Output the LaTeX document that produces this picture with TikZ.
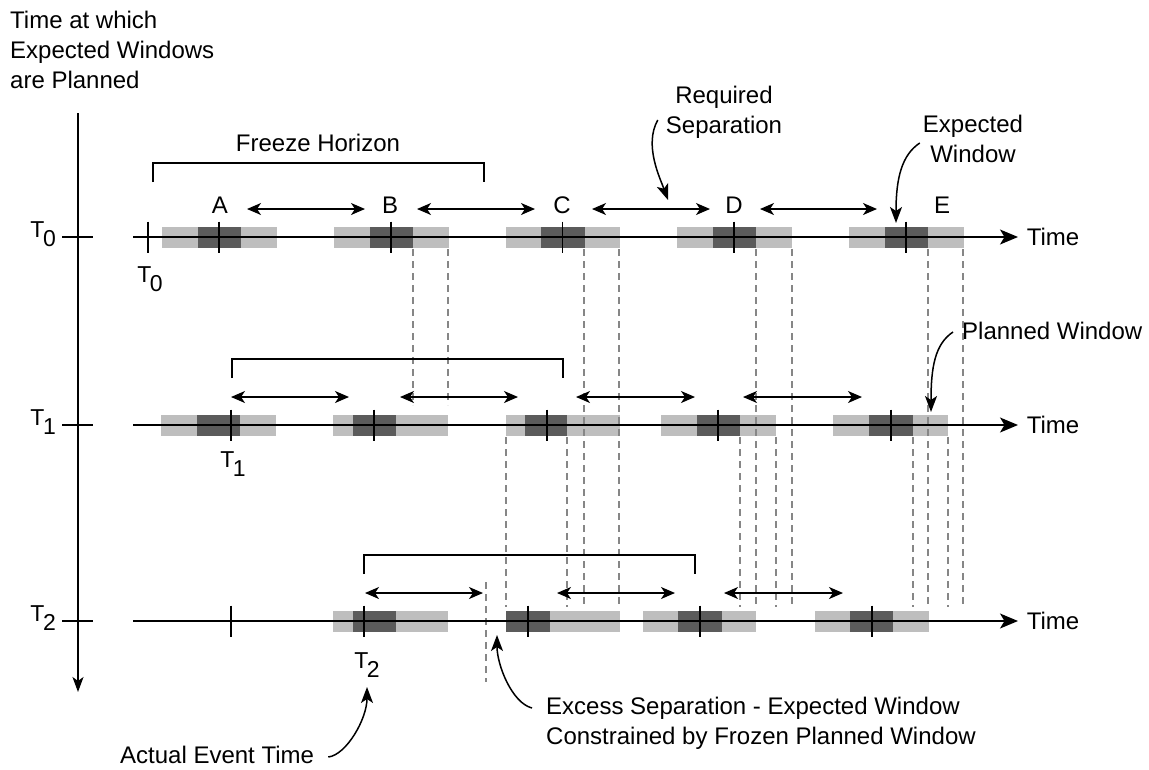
\documentclass[tikz,border=0pt]{standalone}
\usepackage{fontspec}
\setmainfont{Liberation Sans}
\usetikzlibrary{positioning, arrows.meta}

\definecolor{winlight}{HTML}{BEBEBE}
\definecolor{windark}{HTML}{5B5B5B}
\definecolor{guidegray}{HTML}{868686}

% planned window (light) and expected window (dark) on a row
\newcommand{\winbox}[5]{%
  \fill[winlight] (#1,#5-10.5) rectangle (#2,#5+10.5);
  \fill[windark] (#3,#5-10.5) rectangle (#4,#5+10.5);}
\newcommand{\evtick}[2]{\draw[tick] (#1,#2-15.5) -- (#1,#2+15.5);}
\newcommand{\Tsub}[1]{T\kern-1.5pt\raisebox{-9pt}{#1}}

\begin{document}
\begin{tikzpicture}[x=1pt, y=-1pt,
  every node/.style={inner sep=0pt, font=\fontsize{24}{30}\selectfont},
  tlab/.style={font=\fontsize{23}{23}\selectfont},
  tline/.style={line width=1.5pt, -{Stealth[length=18pt,width=15pt,inset=4.5pt]}},
  tick/.style={line width=1.5pt},
  frz/.style={line width=1.5pt},
  sep/.style={line width=1.5pt,
              {Stealth[length=14pt,width=12pt,inset=4pt]}-{Stealth[length=14pt,width=12pt,inset=4pt]}},
  guide/.style={guidegray, line width=1.3pt, dash pattern=on 7pt off 5pt},
  callout/.style={line width=1.5pt, -{Stealth[length=16pt,width=12pt,inset=4pt]}}]
\useasboundingbox (0,0) rectangle (1149,769);

% planning axis
\node[anchor=north west, align=left] (ttl) at (10,11)
  {Time at which\\Expected Windows\\are Planned};
\draw[tline, -{Stealth[length=15pt,width=11pt,inset=4pt]}] (78,113) -- (78,692);
\foreach \y/\i in {237/0,425/1,621/2} {
  \draw[tick] (62,\y) -- (93,\y);
  \node[tlab, anchor=base east] (ax\i) at (56,\y) {\Tsub{\i}};
}

% windows
\foreach \s in {162,334,505.5,677,849} {
  \winbox{\s}{\s+114.5}{\s+35.5}{\s+79}{237}
}
\winbox{161}{276}{197}{240}{425}
\winbox{333}{448}{353}{396}{425}
\winbox{506}{620}{525}{567}{425}
\winbox{661}{776}{697}{740}{425}
\winbox{833}{948}{869}{913}{425}
\winbox{333}{448}{353}{396}{621}
\winbox{506}{620}{506}{550}{621}
\winbox{643}{756}{678}{722}{621}
\winbox{815}{929}{850}{893}{621}

% guide lines
\foreach \x in {413,448}
  \draw[guide] (\x,249) -- (\x,405);
\foreach \x in {584,619,756,792,928,963}
  \draw[guide] (\x,249) -- (\x,607);
\foreach \x in {506,567,740,776,913,948}
  \draw[guide] (\x,437) -- (\x,607);
\draw[guide] (486,582) -- (486,682);

% row T0
\draw[tline] (133,237) -- (1018,237) node[anchor=west, xshift=8pt] (time0) {Time};
\evtick{148}{237}
\foreach \s in {162,334,505.5,677,849} {
  \evtick{\s+57}{237}
}
\node[tlab, anchor=base] (tz) at (150,282) {\Tsub{0}};
\foreach \x/\n in {220/A,390/B,562/C,734/D,942/E}
  \node (lab\n) at (\x,205) {\n};
\foreach \a/\b in {247/365,417/535,592/710,760/877}
  \draw[sep] (\a,209) -- (\b,209);
\draw[frz] (153,182) |- (484,163) -- (484,182);
\node (frzlab) at (318,143) {Freeze Horizon};

% row T1
\draw[tline] (133,425) -- (1018,425) node[anchor=west, xshift=8pt] (time1) {Time};
\foreach \x in {231,374,547,718,891} {
  \evtick{\x}{425}
}
\node[tlab, anchor=base] (tone) at (233,467) {\Tsub{1}};
\foreach \a/\b in {231/349,400/518,576/695,743/862}
  \draw[sep] (\a,397) -- (\b,397);
\draw[frz] (232,378) |- (563,359) -- (563,378);

% row T2
\draw[tline] (133,621) -- (1018,621) node[anchor=west, xshift=8pt] (time2) {Time};
\foreach \x in {231,364,528,700,872} {
  \evtick{\x}{621}
}
\node[tlab, anchor=base] (ttwo) at (367,668) {\Tsub{2}};
\foreach \a/\b in {365/483,557/675,724/843}
  \draw[sep] (\a,593) -- (\b,593);
\draw[frz] (364,574) |- (695,555) -- (695,574);

% callouts
\node[align=center] (reqsep) at (724,112) {Required\\Separation};
\coordinate (reqtip) at (668,200);
\draw[callout] ([xshift=-8pt,yshift=-8pt]reqsep.west)
  .. controls +(-14,25) and +(-8,-22) .. (reqtip);

\node[align=center] (expwin) at (973,139) {Expected\\Window};
\coordinate (exptip) at (896,223);
\draw[callout] ([xshift=-3pt,yshift=-4pt]expwin.west)
  .. controls +(-18,12) and +(0,-45) .. (exptip);

\node[anchor=west] (planwin) at (962,331) {Planned Window};
\coordinate (plantip) at (931,412);
\draw[callout] ([xshift=-9pt,yshift=-1pt]planwin.west)
  .. controls +(-18,12) and +(0,-45) .. (plantip);

\node[anchor=west] (actual) at (120,755) {Actual Event Time};
\coordinate (acttip) at (367,687);
\draw[callout] ([xshift=14pt,yshift=-2pt]actual.east)
  .. controls +(18,-2) and +(0,32) .. (acttip);

\node[anchor=west, align=left] (excess) at (546,723)
  {Excess Separation - Expected Window\\Constrained by Frozen Planned Window};
\coordinate (exctip) at (497,635);
\draw[callout] ([xshift=-14pt,yshift=15pt]excess.west)
  .. controls +(-20,-5) and +(0,30) .. (exctip);
\end{tikzpicture}
\end{document}
